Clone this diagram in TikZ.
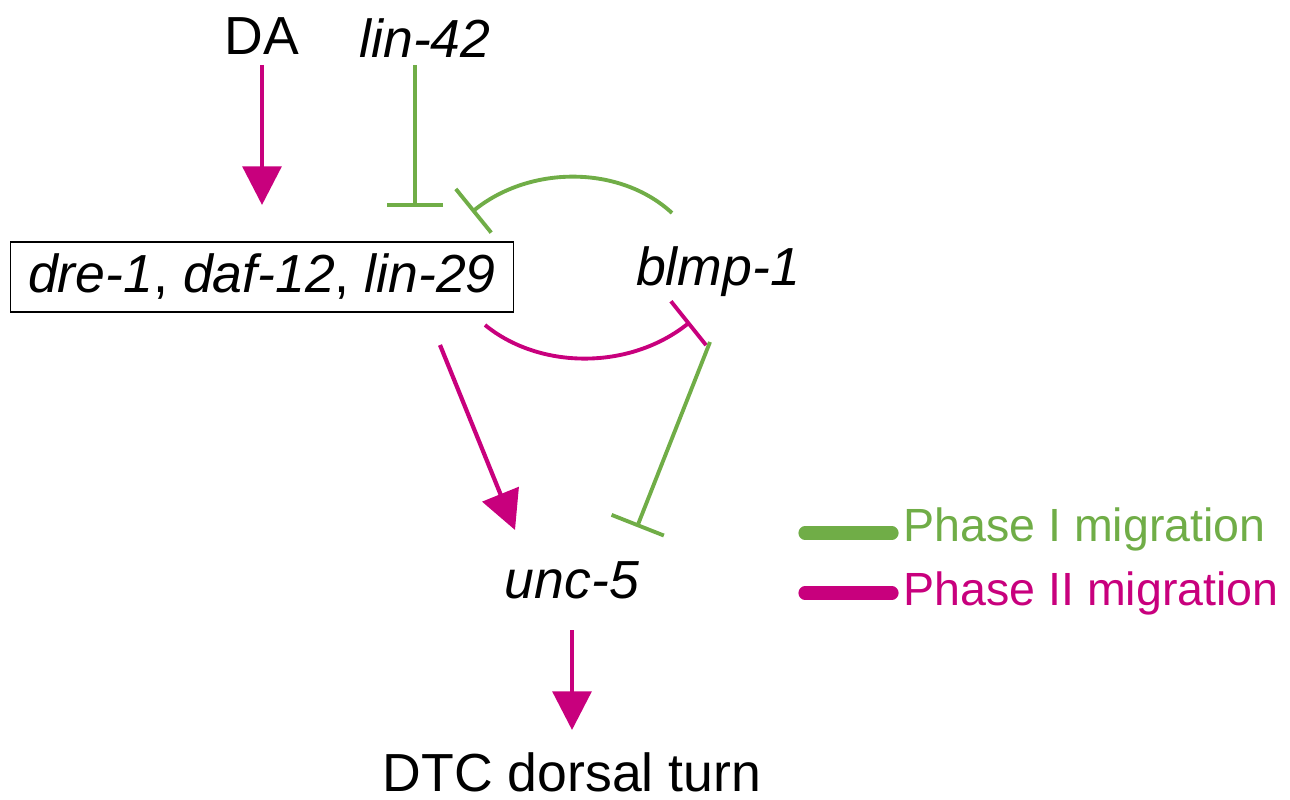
\documentclass[tikz,border=0pt]{standalone}
\usepackage{fontspec}
\setmainfont{Liberation Sans}
\usetikzlibrary{arrows.meta}
\definecolor{pg}{RGB}{112,173,71}
\definecolor{pm}{RGB}{200,0,125}
\begin{document}
\begin{tikzpicture}[x=0.02cm,y=-0.02cm,
  lbl/.style={font=\fontsize{30.5}{36}\selectfont, inner sep=0pt},
  leglbl/.style={font=\fontsize{26.5}{32}\selectfont, inner sep=0pt},
  act/.style={pm, line width=2.4pt, -{Triangle[length=22pt,width=22pt]}},
  inh/.style={line width=2.2pt, -{Bar[width=32pt]}},
  leg/.style={line width=7.5pt, line cap=round}]
\useasboundingbox (0,0) rectangle (1290,800);
\node[lbl] (da) at (262,36) {DA};
\node[lbl] (lin42) at (425,38) {\itshape lin-42};
\node[lbl, draw, line width=1pt, inner xsep=10pt, inner ysep=7pt] (box) at (262,277) {\itshape dre-1\upshape, \itshape daf-12\upshape, \itshape lin-29};
\node[lbl] (blmp) at (718,272) {\itshape blmp-1};
\node[lbl] (unc) at (572,580) {\itshape unc-5};
\node[lbl] (dtc) at (572,772) {DTC dorsal turn};
\coordinate (daE) at (262,205);
\coordinate (linE) at (415,207);
\draw[act] (262,65) -- (daE);
\draw[inh, pg] (415,65) -- (linE);
\draw[inh, pg] (672,213) .. controls (620,165) and (530,165) .. (472,212);
\draw[inh, pm] (485,325) .. controls (540,370) and (630,370) .. (690,322);
\draw[act] (440,345) -- (515,530);
\draw[inh, pg] (710,342) -- (637,527);
\draw[act] (572,630) -- (572,730);
\draw[leg, pg] (805,533) -- (892,533);
\draw[leg, pm] (805,593) -- (892,593);
\node[leglbl, pg, anchor=west] (l1) at (903,529) {Phase I migration};
\node[leglbl, pm, anchor=west] (l2) at (903,593) {Phase II migration};
\end{tikzpicture}
\end{document}
